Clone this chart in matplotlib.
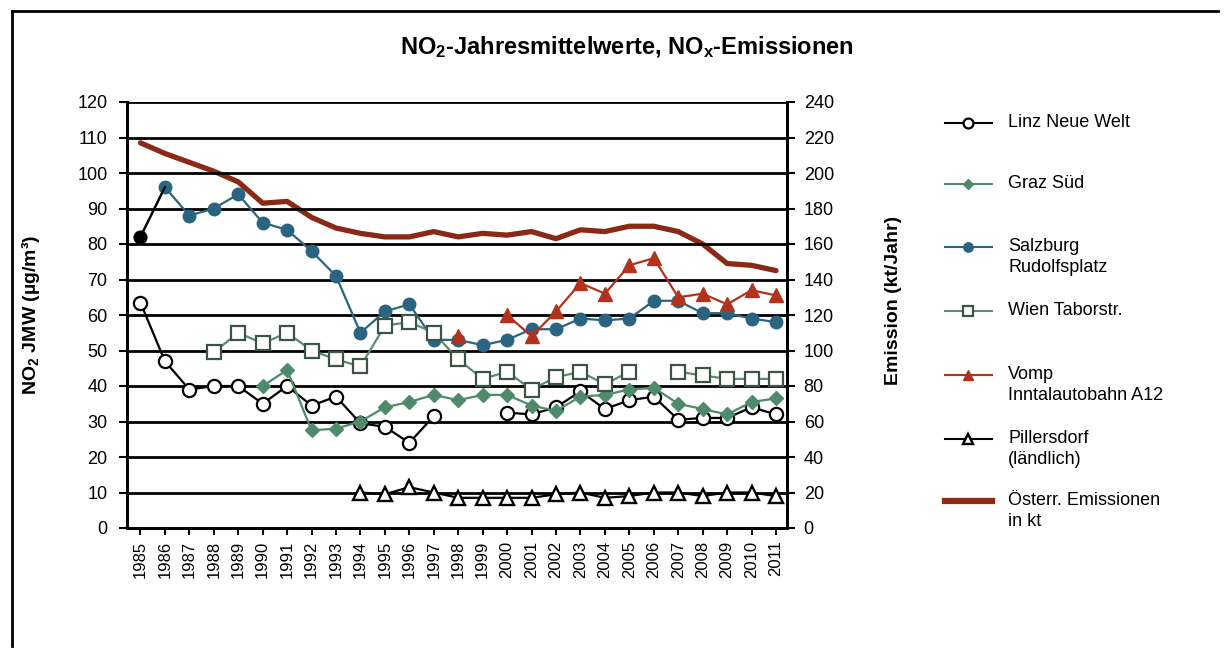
import numpy as np
import matplotlib
matplotlib.use('Agg')
import matplotlib.pyplot as plt
from matplotlib.lines import Line2D

plt.rcParams['font.family'] = ['Liberation Sans', 'DejaVu Sans']
plt.rcParams['mathtext.default'] = 'regular'

nan = np.nan

# === DATA ===
years = list(range(1985, 2012))

linz = [63.5, 47, 39, 40, 40, 35, 40, 34.5, 37, 29.5, 28.5, 24, 31.5, nan, nan,
        32.5, 32, 34, 38.5, 33.5, 36, 37, 30.5, 31, 31, 34, 32]
graz = [nan, nan, nan, nan, nan, 40, 44.5, 27.5, 28, 30, 34, 35.5, 37.5, 36, 37.5,
        37.5, 34.5, 33, 37, 37.5, 39, 39.5, 35, 33.5, 32, 35.5, 36.5]
salzburg = [82, 96, 88, 90, 94, 86, 84, 78, 71, 55, 61, 63, 53, 53, 51.5,
            53, 56, 56, 59, 58.5, 59, 64, 64, 60.5, 60.5, 59, 58]
wien = [nan, nan, nan, 49.5, 55, 52, 55, 50, 47.5, 45.5, 57, 58, 55, 47.5, 42,
        44, 39, 42.5, 44, 40.5, 44, nan, 44, 43, 42, 42, 42]
vomp = [nan] * 13 + [54, nan, 60, 54, 61, 69, 66, 74, 76, 65, 66, 63, 67, 65.5]
pillersdorf = [nan] * 9 + [10, 9.5, 11.5, 10, 8.5, 8.5, 8.5, 8.5, 9.5, 10, 8.5, 9,
                           10, 10, 9, 10, 10, 9]
emission = [217, 211, 206, 201, 195, 183, 184, 175, 169, 166, 164, 164, 167, 164, 166,
            165, 167, 163, 168, 167, 170, 170, 167, 160, 149, 148, 145]

labels = ['Linz Neue Welt', 'Graz Süd', 'Salzburg\nRudolfsplatz', 'Wien Taborstr.',
          'Vomp\nInntalautobahn A12', 'Pillersdorf\n(ländlich)', 'Österr. Emissionen\nin kt']

# === STYLE ===
GREEN = '#4f8a6a'
TEAL = '#2b6480'
RED = '#b3321b'
BROWN = '#8a2a16'
W, H = 1227, 649

fig = plt.figure(figsize=(W / 100, H / 100), dpi=100, facecolor='white')
ax = fig.add_axes([127 / W, 1 - 528 / H, (787 - 127) / W, (528 - 102) / H])
ax2 = ax.twinx()

styles = [
    dict(color='black', marker='o', mfc='white', mec='black', ms=9.5, mew=1.6),
    dict(color=GREEN, marker='D', mfc=GREEN, mec=GREEN, ms=7, mew=1),
    dict(color=TEAL, marker='o', mfc=TEAL, mec=TEAL, ms=9, mew=1),
    dict(color='#5f8a72', marker='s', mfc='white', mec='#3c5446', ms=9.5, mew=1.6),
    dict(color=RED, marker='^', mfc=RED, mec=RED, ms=10, mew=1),
    dict(color='black', marker='^', mfc='white', mec='black', ms=10.5, mew=1.7),
]
series = [linz, graz, salzburg, wien, vomp, pillersdorf]

for data, st in zip(series, styles):
    ax.plot(years, data, lw=1.6, zorder=3, **st)
# first Salzburg point is printed in black in the original
ax.plot(years[:2], salzburg[:2], color='black', lw=1.6, zorder=3)
ax.plot(years[:1], salzburg[:1], 'o', color='black', ms=9, zorder=4)

ax2.plot(years, emission, color=BROWN, lw=3.8, solid_capstyle='round', zorder=2)

ax.set_xlim(1984.45, 2011.45)
ax.set_ylim(0, 120)
ax2.set_ylim(0, 240)
ax.set_yticks(range(0, 121, 10))
ax2.set_yticks(range(0, 241, 20))
ax.set_xticks(years)
ax.set_xticklabels([str(y) for y in years], rotation=90, fontsize=12)
ax.tick_params(axis='x', direction='out', length=5, width=1.5, pad=4)
ax.tick_params(axis='y', direction='out', length=6, width=1.5, labelsize=13, pad=8)
ax2.tick_params(axis='y', direction='out', length=6, width=1.5, labelsize=13, pad=6)

ax.grid(axis='y', color='black', lw=2)
ax.set_axisbelow(True)
for a in (ax, ax2):
    a.spines['top'].set_visible(False)
    for s in ('left', 'right', 'bottom'):
        a.spines[s].set_linewidth(2)
# keep emission line above grid but below station markers
ax.set_zorder(ax2.get_zorder() + 1)
ax.patch.set_visible(False)

# titles and axis labels
fig.text(627 / W, 1 - 47 / H, r'NO$_2$-Jahresmittelwerte, NO$_x$-Emissionen',
         ha='center', va='center', fontsize=17, fontweight='bold')
fig.text(30 / W, 1 - 315 / H, r'NO$_2$ JMW (µg/m³)', rotation=90,
         ha='center', va='center', fontsize=14, fontweight='bold')
fig.text(893 / W, 1 - 300 / H, 'Emission (kt/Jahr)', rotation=90,
         ha='center', va='center', fontsize=14, fontweight='bold')

# legend drawn by hand to match the uneven spacing of the original
leg_y = [123, 184, 247, 311, 375, 439, 501]
leg_styles = styles + [dict(color=BROWN, marker=None)]
for yy, lab, st in zip(leg_y, labels, leg_styles):
    fy = 1 - yy / H
    st = dict(st)
    if st.get('marker'):
        st['ms'] = st['ms'] * 0.75
        lw = 1.5
    else:
        lw = 4.5
    fig.add_artist(Line2D([945 / W, 992 / W], [fy, fy], transform=fig.transFigure,
                          lw=lw, color=st.pop('color'), marker=None))
    if st.get('marker'):
        fig.add_artist(Line2D([968.5 / W], [fy], transform=fig.transFigure,
                              ls='none', **st))
    fig.text(1008 / W, fy + 9 / H, lab, ha='left', va='top', fontsize=13,
             linespacing=1.3)

# frame of the scanned figure
fig.add_artist(Line2D([12 / W, 1218 / W], [1 - 11 / H, 1 - 11 / H],
                      transform=fig.transFigure, color='black', lw=2))
fig.add_artist(Line2D([12 / W, 12 / W], [1 - 11 / H, 1 - 646 / H],
                      transform=fig.transFigure, color='black', lw=2))

fig.savefig('out.png', dpi=100, facecolor='white')
